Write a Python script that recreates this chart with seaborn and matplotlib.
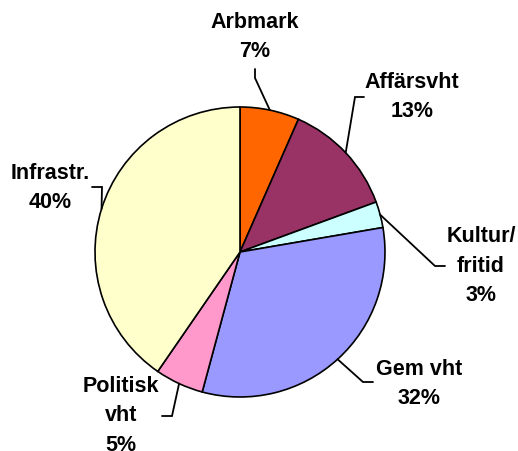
import matplotlib
matplotlib.use("Agg")
import matplotlib.pyplot as plt
import numpy as np
import seaborn as sns

CATEGORIES = ["Arbmark", "Affärsvht", "Kultur/\nfritid", "Gem vht", "Politisk\nvht", "Infrastr."]
SHARES = [6.6, 12.8, 2.9, 31.9, 5.4, 40.4]
COLORS = ["#FF6600", "#993366", "#CCFFFF", "#9999FF", "#FF99CC", "#FFFFCC"]

# pixel layout of the reference (center of pie, radius)
W, H = 518, 452
CX, CY, R = 240, 253, 145

# label text centre and leader elbow, in pixels
LABEL_POS = [(255, 37), (412, 97), (481, 266), (419, 384), (121, 416), (50, 188)]
LEADER = [
    [(255, 70), (255, 79)],
    [(364, 98), (355, 98)],
    [(445, 267), (435, 267)],
    [(373, 383), (363, 383)],
    [(162, 417), (172, 417)],
    [(92, 188), (102, 188)],
]


def px(p):
    return ((p[0] - CX) / R, (CY - p[1]) / R)


sns.set_theme(style="white")
plt.rcParams["font.family"] = ["Liberation Sans", "DejaVu Sans"]

fig = plt.figure(figsize=(W / 100, H / 100), dpi=100)
ax = fig.add_axes([0, 0, 1, 1])
wedges, _ = ax.pie(
    SHARES,
    colors=COLORS,
    startangle=90,
    counterclock=False,
    radius=1,
    wedgeprops=dict(edgecolor="black", linewidth=1.2),
)
ax.set_xlim(-CX / R, (W - CX) / R)
ax.set_ylim((CY - H) / R, CY / R)
ax.set_aspect("equal")
ax.axis("off")

for wedge, name, share, pos, elbow in zip(wedges, CATEGORIES, SHARES, LABEL_POS, LEADER):
    mid = np.deg2rad((wedge.theta1 + wedge.theta2) / 2)
    edge = (np.cos(mid), np.sin(mid))
    pts = [px(p) for p in elbow] + [edge]
    ax.plot([p[0] for p in pts], [p[1] for p in pts], color="black", lw=1.3,
            solid_joinstyle="miter", clip_on=False)
    x, y = px(pos)
    ax.text(x, y, f"{name}\n{round(share)}%", ha="center", va="center", color="black",
            fontsize=15.5, fontweight="bold", linespacing=1.55, clip_on=False)

fig.savefig("out.png", dpi=100)
